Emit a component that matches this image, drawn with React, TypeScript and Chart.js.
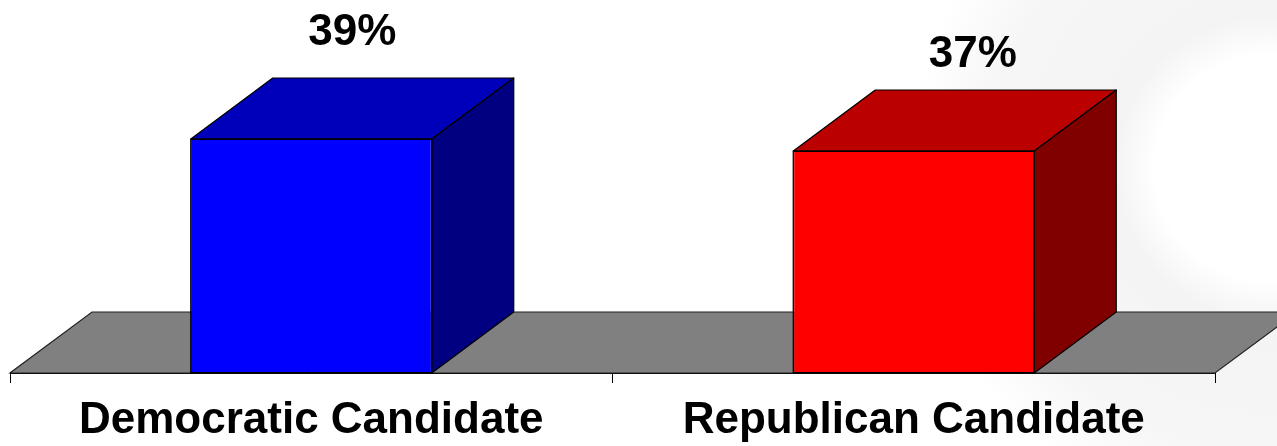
import React, { useEffect, useRef } from "react";
import { Chart, registerables } from "chart.js";

Chart.register(...registerables);

const categories = ["Democratic Candidate", "Republican Candidate"];
const values = [39, 37];
const valueLabels = ["39%", "37%"];
const frontColors = ["#0000FF", "#FF0000"];
const topColors = ["#0000BB", "#BB0000"];
const sideColors = ["#000080", "#800000"];

const FONT = "'Liberation Sans', Arial, sans-serif";

const threeD = {
  id: "threeD",
  beforeDraw(chart: any, _args: any, opts: any) {
    const { ctx, width, height } = chart;
    ctx.save();
    ctx.fillStyle = "#ffffff";
    ctx.fillRect(0, 0, width, height);
    // faint, soft watermark ring
    const g = ctx.createRadialGradient(opts.ringX, opts.ringY, 0, opts.ringX, opts.ringY, opts.ringOuter);
    const ri = opts.ringInner / opts.ringOuter;
    g.addColorStop(0, "rgba(0,0,0,0)");
    g.addColorStop(ri - 0.05, "rgba(0,0,0,0)");
    g.addColorStop(ri + 0.06, "rgba(0,0,0,0.045)");
    g.addColorStop(0.78, "rgba(0,0,0,0.035)");
    g.addColorStop(1, "rgba(0,0,0,0)");
    ctx.fillStyle = g;
    ctx.fillRect(0, 0, width, height);
    ctx.restore();
  },
  beforeDatasetsDraw(chart: any, _args: any, opts: any) {
    const { ctx, chartArea } = chart;
    const dx = opts.dx, dy = opts.dy;
    const b = chartArea.bottom;
    ctx.save();
    ctx.beginPath();
    ctx.moveTo(chartArea.left, b);
    ctx.lineTo(chartArea.right, b);
    ctx.lineTo(chartArea.right + dx, b - dy);
    ctx.lineTo(chartArea.left + dx, b - dy);
    ctx.closePath();
    ctx.fillStyle = "#808080";
    ctx.fill();
    ctx.strokeStyle = "#222222";
    ctx.lineWidth = 1.2;
    ctx.stroke();
    ctx.restore();
  },
  afterDatasetsDraw(chart: any, _args: any, opts: any) {
    const { ctx } = chart;
    const dx = opts.dx, dy = opts.dy;
    const meta = chart.getDatasetMeta(0);
    meta.data.forEach((bar: any, i: number) => {
      const p = bar.getProps(["x", "y", "base", "width"], true);
      const l = p.x - p.width / 2;
      const r = p.x + p.width / 2;
      const t = p.y;
      const bt = p.base;
      ctx.save();
      ctx.lineWidth = 1.2;
      ctx.strokeStyle = "#000000";
      ctx.lineJoin = "round";
      // top face
      ctx.beginPath();
      ctx.moveTo(l, t);
      ctx.lineTo(r, t);
      ctx.lineTo(r + dx, t - dy);
      ctx.lineTo(l + dx, t - dy);
      ctx.closePath();
      ctx.fillStyle = topColors[i];
      ctx.fill();
      ctx.stroke();
      // side face
      ctx.beginPath();
      ctx.moveTo(r, t);
      ctx.lineTo(r + dx, t - dy);
      ctx.lineTo(r + dx, bt - dy);
      ctx.lineTo(r, bt);
      ctx.closePath();
      ctx.fillStyle = sideColors[i];
      ctx.fill();
      ctx.stroke();
      // front outline
      ctx.strokeRect(l, t, r - l, bt - t);
      // value label
      const nudge = opts.labelNudge[i] || { x: 0, y: 0 };
      ctx.fillStyle = "#000000";
      ctx.font = "bold 44px " + FONT;
      ctx.textAlign = "center";
      ctx.textBaseline = "alphabetic";
      ctx.fillText(valueLabels[i], p.x + dx / 2 + nudge.x, t - dy - 33 + nudge.y);
      ctx.restore();
    });
  },
};

export default function App() {
  const ref = useRef<HTMLCanvasElement | null>(null);
  useEffect(() => {
    if (!ref.current) return;
    const chart = new Chart(ref.current, {
      type: "bar",
      data: {
        labels: categories,
        datasets: [
          {
            data: values,
            backgroundColor: frontColors,
            borderColor: "#000000",
            borderWidth: 1,
            borderSkipped: false,
            categoryPercentage: 0.8,
            barPercentage: 0.5,
          },
        ],
      },
      plugins: [threeD],
      options: {
        responsive: false,
        animation: false,
        layout: { padding: { left: 10, right: 62, top: 13, bottom: 0 } },
        plugins: {
          legend: { display: false },
          tooltip: { enabled: false },
          threeD: {
            dx: 82,
            dy: 61,
            labelNudge: [
              { x: 0, y: 0 },
              { x: 18, y: 10 },
            ],
            ringX: 1268,
            ringY: 168,
            ringOuter: 360,
            ringInner: 130,
          },
        } as any,
        scales: {
          x: {
            offset: true,
            grid: {
              offset: true,
              drawOnChartArea: false,
              drawTicks: true,
              tickLength: 10,
              color: "#000000",
              lineWidth: 1,
            },
            border: { display: true, color: "#000000", width: 1 },
            ticks: {
              color: "#000000",
              padding: 11,
              maxRotation: 0,
              autoSkip: false,
              font: { family: FONT, size: 44, weight: "bold" },
            },
            afterFit(scale: any) {
              scale.height = 73;
            },
          },
          y: {
            display: false,
            min: 0,
            max: 60,
          },
        },
      },
    });
    return () => chart.destroy();
  }, []);
  return (
    <div style={{ position: "fixed", left: 0, top: 0, width: 1277, height: 446 }}>
      <canvas ref={ref} width={1277} height={446} style={{ display: "block" }} />
    </div>
  );
}
